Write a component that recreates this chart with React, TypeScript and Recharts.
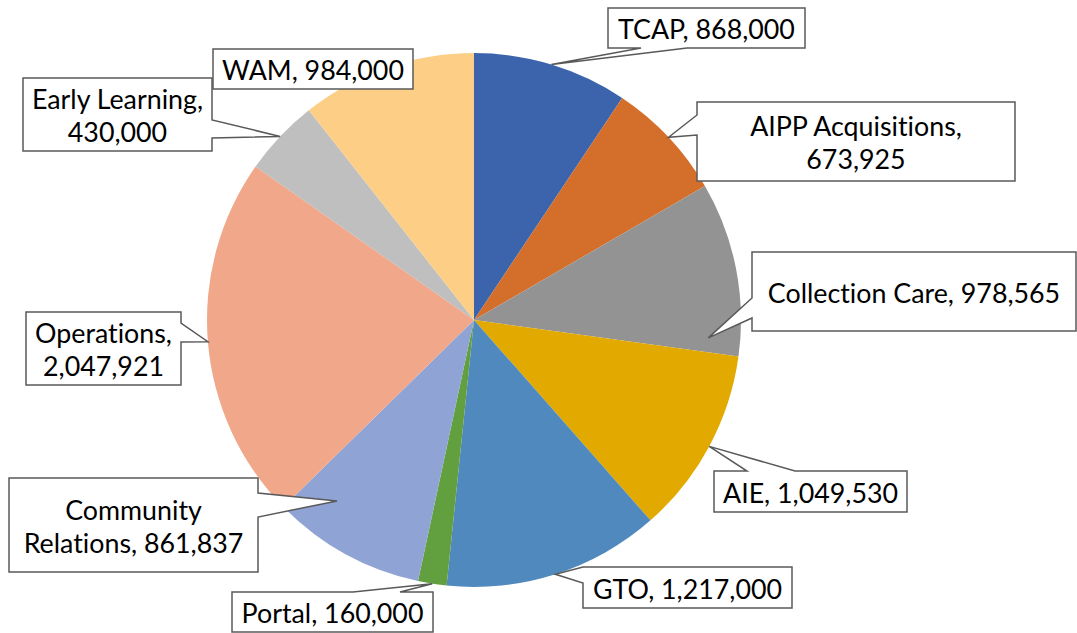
import React from 'react'
import { PieChart, Pie, Cell } from 'recharts'

// Budget by program
const categories = [
  'TCAP',
  'AIPP Acquisitions',
  'Collection Care',
  'AIE',
  'GTO',
  'Portal',
  'Community Relations',
  'Operations',
  'Early Learning',
  'WAM'
]
const amounts = [868000, 673925, 978565, 1049530, 1217000, 160000, 861837, 2047921, 430000, 984000]
const sliceColors = [
  '#3c64ad', '#d46e2b', '#939393', '#e2a900', '#4f89bd',
  '#62a03f', '#8fa3d4', '#f0a78a', '#bfbfbf', '#fdcf86'
]

// callout text lines
const labelLines = [
  ['TCAP, 868,000'],
  ['AIPP Acquisitions,', '673,925'],
  ['Collection Care, 978,565'],
  ['AIE, 1,049,530'],
  ['GTO, 1,217,000'],
  ['Portal, 160,000'],
  ['Community', 'Relations, 861,837'],
  ['Operations,', '2,047,921'],
  ['Early Learning,', '430,000'],
  ['WAM, 984,000']
]

// callout boxes: x, y, w, h, which side the tail leaves from, tail base (a, b)
// shift = clockwise degrees added to the slice mid angle for the tip, rf = radius factor
type Callout = { x: number; y: number; w: number; h: number; side: string; a: number; b: number; shift?: number; rf?: number }
const callouts: Callout[] = [
  { x: 608, y: 8, w: 197, h: 40, side: 'bottom', a: 641, b: 687 },
  { x: 697, y: 102, w: 318, h: 79, side: 'left', a: 115, b: 135 },
  { x: 752, y: 252, w: 324, h: 79, side: 'left', a: 298, b: 318, shift: 15.5, rf: 0.88 },
  { x: 714, y: 471, w: 193, h: 41, side: 'top', a: 747, b: 795 },
  { x: 583, y: 567, w: 209, h: 41, side: 'left', a: 567, b: 583 },
  { x: 232, y: 592, w: 201, h: 40, side: 'top', a: 353, b: 400 },
  { x: 9, y: 478, w: 249, h: 94, side: 'right', a: 493, b: 517, shift: 8.3, rf: 0.85 },
  { x: 26, y: 312, w: 155, h: 73, side: 'right', a: 323, b: 342 },
  { x: 23, y: 78, w: 189, h: 73, side: 'right', a: 120, b: 138 },
  { x: 213, y: 49, w: 200, h: 40, side: 'none', a: 0, b: 0 }
]

const data = categories.map((name, i) => ({ name, value: amounts[i] }))

const RAD = Math.PI / 180
const FONT = 'Lato, Calibri, sans-serif'

const renderCallout = (props: any) => {
  const { cx, cy, midAngle, outerRadius, index } = props
  const c = callouts[index]
  const ang = midAngle - (c.shift || 0)
  const r = outerRadius * (c.rf || 1)
  const tx = cx + r * Math.cos(-ang * RAD)
  const ty = cy + r * Math.sin(-ang * RAD)
  const { x, y, w, h, side, a, b } = c
  const pts: number[][] = []
  pts.push([x, y])
  if (side === 'top') pts.push([a, y], [tx, ty], [b, y])
  pts.push([x + w, y])
  if (side === 'right') pts.push([x + w, a], [tx, ty], [x + w, b])
  pts.push([x + w, y + h])
  if (side === 'bottom') pts.push([b, y + h], [tx, ty], [a, y + h])
  pts.push([x, y + h])
  if (side === 'left') pts.push([x, b], [tx, ty], [x, a])
  const d = 'M' + pts.map((p) => p[0] + ',' + p[1]).join('L') + 'Z'
  const lines = labelLines[index]
  const lh = 33
  const startY = y + h / 2 - ((lines.length - 1) * lh) / 2 + 1
  return (
    <g key={`callout-${index}`}>
      <path d={d} fill="#ffffff" stroke="#595959" strokeWidth={1.5} />
      {lines.map((ln, j) => (
        <text
          key={j}
          x={x + w / 2}
          y={startY + j * lh}
          textAnchor="middle"
          dominantBaseline="central"
          fontFamily={FONT}
          fontSize={26.8}
          fill="#000000"
          style={{ fontVariantLigatures: 'none' }}
        >
          {ln}
        </text>
      ))}
    </g>
  )
}

export default function App() {
  return (
    <div style={{ position: 'absolute', left: 0, top: 0, width: 1077, height: 633, background: '#ffffff' }}>
      <PieChart width={1077} height={633} margin={{ top: 0, right: 0, bottom: 0, left: 0 }}>
        <Pie
          data={data}
          dataKey="value"
          nameKey="name"
          cx={474}
          cy={320}
          outerRadius={267}
          startAngle={90}
          endAngle={-270}
          stroke="none"
          labelLine={false}
          label={renderCallout}
          isAnimationActive={false}
        >
          {data.map((entry, index) => (
            <Cell key={`cell-${index}`} fill={sliceColors[index]} />
          ))}
        </Pie>
      </PieChart>
    </div>
  )
}
